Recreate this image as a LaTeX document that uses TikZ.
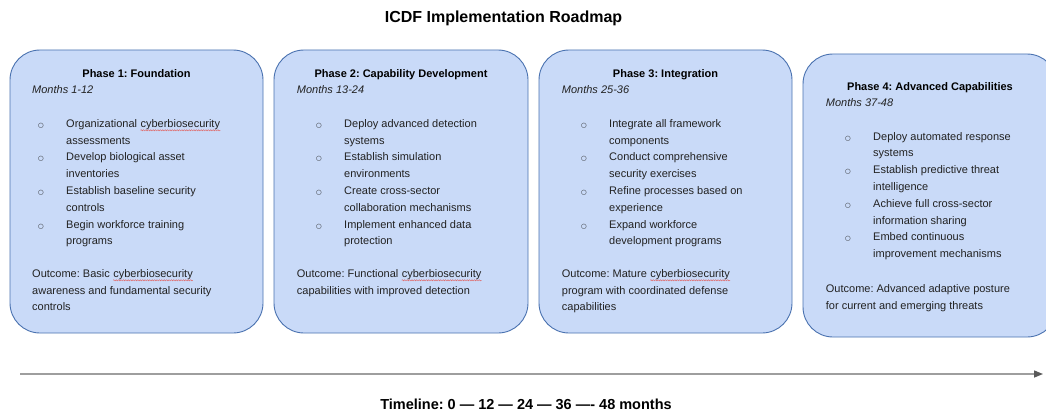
\documentclass[tikz,border=0pt]{standalone}
\usepackage{fontspec}
\setmainfont{Liberation Sans}
\newfontfamily\symfont{DejaVu Sans}
\usetikzlibrary{arrows.meta,decorations.pathmorphing}

\definecolor{phasefill}{HTML}{C9DAF8}
\definecolor{phaseline}{HTML}{4A72B0}
\definecolor{ink}{HTML}{222222}
\definecolor{axisgray}{HTML}{9E9E9E}
\definecolor{tipgray}{HTML}{595959}
\definecolor{spellred}{HTML}{E06666}

% hollow list bullet hanging 28pt left of the item text
\newcommand{\bul}{\llap{\makebox[28pt][l]{\symfont\fontsize{6.5}{7}\selectfont ○}}}

\tikzset{
  phase/.style={draw=phaseline, fill=phasefill, line width=0.9pt,
    rounded corners=30pt, minimum height=283pt, inner sep=0pt},
  bodyline/.style={anchor=base west, inner sep=0pt, text=ink,
    font=\fontsize{11}{13}\selectfont},
  monthline/.style={bodyline, font=\itshape\fontsize{11}{13}\selectfont},
  phasehead/.style={anchor=base, inner sep=0pt, text=black,
    font=\bfseries\fontsize{11}{13}\selectfont},
  % word that follows the preceding text after one interword space
  flagged/.style={bodyline, xshift=3.06pt},
  spell/.style={draw=spellred, line width=0.45pt, decorate,
    decoration={snake, amplitude=0.6pt, segment length=2.4pt}},
  axis/.style={draw=axisgray, line width=1.4pt,
    -{Triangle[length=9pt, width=7pt, color=tipgray]}},
}

\begin{document}
\frenchspacing
\begin{tikzpicture}[x=1pt, y=-1pt]
\clip (0,0) rectangle (1046,412);
\fill[white] (0,0) rectangle (1046,412);

% title
\node[anchor=base, inner sep=0pt, font=\bfseries\fontsize{16}{19}\selectfont]
  (title) at (503.5,23) {ICDF Implementation Roadmap};

% phase boxes
\node[phase, minimum width=253pt] (p1) at (136.5,191.5) {};
\node[phase, minimum width=254pt] (p2) at (401,191.5) {};
\node[phase, minimum width=253pt] (p3) at (665.5,191.5) {};
\node[phase, minimum width=254pt] (p4) at (930,195.5) {};

% Phase 1
\node[phasehead] (p1h) at (136.5,77.3) {Phase 1: Foundation};
\node[monthline] (p1m) at (32,93.3) {Months 1-12};
\foreach \t [count=\i] in {
  {\bul Organizational},
  {assessments},
  {\bul Develop biological asset},
  {inventories},
  {\bul Establish baseline security},
  {controls},
  {\bul Begin workforce training},
  {programs}}
  \node[bodyline, name=p1b\i] at (66,{127.3+16.8*(\i-1)}) {\t};
\node[flagged] (p1bw) at (p1b1.base east) {cyberbiosecurity};
\foreach \t [count=\i] in {
  {Outcome: Basic},
  {awareness and fundamental security},
  {controls}}
  \node[bodyline, name=p1o\i] at (32,{277.3+16.8*(\i-1)}) {\t};
\node[flagged] (p1ow) at (p1o1.base east) {cyberbiosecurity};

% Phase 2
\node[phasehead] (p2h) at (401,77.3) {Phase 2: Capability Development};
\node[monthline] (p2m) at (296.7,93.3) {Months 13-24};
\foreach \t [count=\i] in {
  {\bul Deploy advanced detection},
  {systems},
  {\bul Establish simulation},
  {environments},
  {\bul Create cross-sector},
  {collaboration mechanisms},
  {\bul Implement enhanced data},
  {protection}}
  \node[bodyline, name=p2b\i] at (344,{127.3+16.8*(\i-1)}) {\t};
\foreach \t [count=\i] in {
  {Outcome: Functional},
  {capabilities with improved detection}}
  \node[bodyline, name=p2o\i] at (296.7,{277.3+16.8*(\i-1)}) {\t};
\node[flagged] (p2ow) at (p2o1.base east) {cyberbiosecurity};

% Phase 3
\node[phasehead] (p3h) at (665.5,77.3) {Phase 3: Integration};
\node[monthline] (p3m) at (561.7,93.3) {Months 25-36};
\foreach \t [count=\i] in {
  {\bul Integrate all framework},
  {components},
  {\bul Conduct comprehensive},
  {security exercises},
  {\bul Refine processes based on},
  {experience},
  {\bul Expand workforce},
  {development programs}}
  \node[bodyline, name=p3b\i] at (609,{127.3+16.8*(\i-1)}) {\t};
\foreach \t [count=\i] in {
  {Outcome: Mature},
  {program with coordinated defense},
  {capabilities}}
  \node[bodyline, name=p3o\i] at (561.7,{277.3+16.8*(\i-1)}) {\t};
\node[flagged] (p3ow) at (p3o1.base east) {cyberbiosecurity};

% Phase 4
\node[phasehead] (p4h) at (930,90.7) {Phase 4: Advanced Capabilities};
\node[monthline] (p4m) at (825.7,106.7) {Months 37-48};
\foreach \t [count=\i] in {
  {\bul Deploy automated response},
  {systems},
  {\bul Establish predictive threat},
  {intelligence},
  {\bul Achieve full cross-sector},
  {information sharing},
  {\bul Embed continuous},
  {improvement mechanisms}}
  \node[bodyline, name=p4b\i] at (873,{140+16.8*(\i-1)}) {\t};
\foreach \t [count=\i] in {
  {Outcome: Advanced adaptive posture},
  {for current and emerging threats}}
  \node[bodyline, name=p4o\i] at (825.7,{292.3+16.8*(\i-1)}) {\t};

% spell-check squiggles under flagged words
\foreach \w in {p1bw,p1ow,p2ow,p3ow}
  \draw[spell] ([yshift=-3pt]\w.base west) -- ([yshift=-3pt]\w.base east);

% timeline axis
\coordinate (t0) at (20,374);
\coordinate (t1) at (1043,374);
\draw[axis] (t0) -- (t1);
\node[anchor=base, inner sep=0pt, text=black,
  font=\bfseries\fontsize{14.5}{17}\selectfont]
  (tl) at (526,409) {Timeline: 0 — 12 — 24 — 36 —- 48 months};
\end{tikzpicture}
\end{document}
